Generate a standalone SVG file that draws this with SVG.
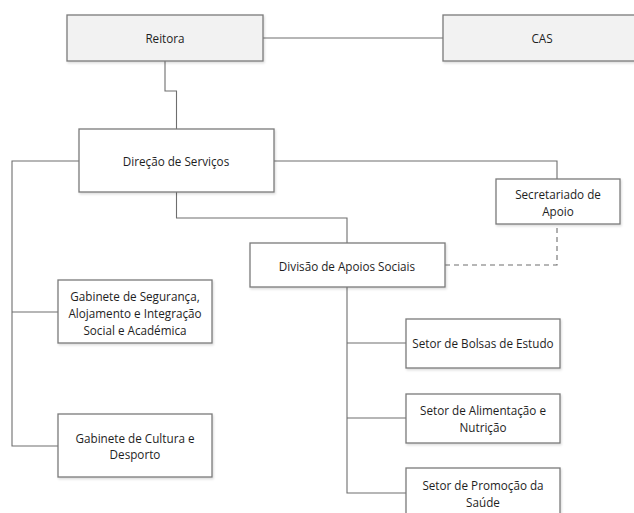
<svg xmlns="http://www.w3.org/2000/svg" width="634" height="513" viewBox="0 0 634 513">
<style>
.box{fill:#ffffff;stroke:#7a7a7a;stroke-width:1.3}
.top{fill:#f2f2f2}
.ln{fill:none;stroke:#6e6e6e;stroke-width:1.1}
.dash{stroke-dasharray:5,4}
text{font-family:"Open Sans","Noto Sans","Liberation Sans",sans-serif;font-size:11.7px;fill:#1e1e1e;text-anchor:middle;dominant-baseline:central}
</style>
<defs>
<filter id="sh" x="-10%" y="-10%" width="125%" height="130%">
<feDropShadow dx="1" dy="1.5" stdDeviation="1" flood-color="#000" flood-opacity="0.15"/>
</filter>
</defs>
<rect width="634" height="513" fill="#ffffff"/>
<g id="connectors">
<path class="ln" d="M263 38 H443"/>
<path class="ln" d="M165 61 V91 H176.5 V129"/>
<path class="ln" d="M79 161 H12 V446 H58"/>
<path class="ln" d="M12 312 H58"/>
<path class="ln" d="M274 161 H557 V179"/>
<path class="ln" d="M176.5 192 V218 H347 V243"/>
<path class="ln dash" d="M445 265 H557 V224"/>
<path class="ln" d="M347 287 V493 H406"/>
<path class="ln" d="M347 343 H406"/>
<path class="ln" d="M347 418 H406"/>
</g>
<g id="reitora"><rect class="box top" x="67" y="15" width="196" height="46" filter="url(#sh)"/><text x="165" y="38">Reitora</text></g>
<g id="cas"><rect class="box top" x="443" y="15" width="200" height="46" filter="url(#sh)"/><text x="542" y="38">CAS</text></g>
<g id="direcao"><rect class="box" x="79" y="129" width="195" height="63" filter="url(#sh)"/><text x="176" y="161">Direção de Serviços</text></g>
<g id="secretariado"><rect class="box" x="496" y="179" width="124" height="45" filter="url(#sh)"/><text x="558" y="194">Secretariado de</text><text x="558" y="211">Apoio</text></g>
<g id="divisao"><rect class="box" x="250" y="243" width="195" height="44" filter="url(#sh)"/><text x="347" y="266">Divisão de Apoios Sociais</text></g>
<g id="gab-seguranca"><rect class="box" x="58" y="280" width="154" height="63" filter="url(#sh)"/><text x="135" y="296">Gabinete de Segurança,</text><text x="135" y="313">Alojamento e Integração</text><text x="135" y="330">Social e Académica</text></g>
<g id="gab-cultura"><rect class="box" x="58" y="414" width="154" height="63" filter="url(#sh)"/><text x="135" y="438">Gabinete de Cultura e</text><text x="135" y="454">Desporto</text></g>
<g id="bolsas"><rect class="box" x="406" y="319" width="154" height="49" filter="url(#sh)"/><text x="483" y="343">Setor de Bolsas de Estudo</text></g>
<g id="alimentacao"><rect class="box" x="406" y="394" width="154" height="49" filter="url(#sh)"/><text x="483" y="410">Setor de Alimentação e</text><text x="483" y="427">Nutrição</text></g>
<g id="promocao"><rect class="box" x="406" y="468" width="154" height="60" filter="url(#sh)"/><text x="483" y="485">Setor de Promoção da</text><text x="483" y="502">Saúde</text></g>
</svg>
